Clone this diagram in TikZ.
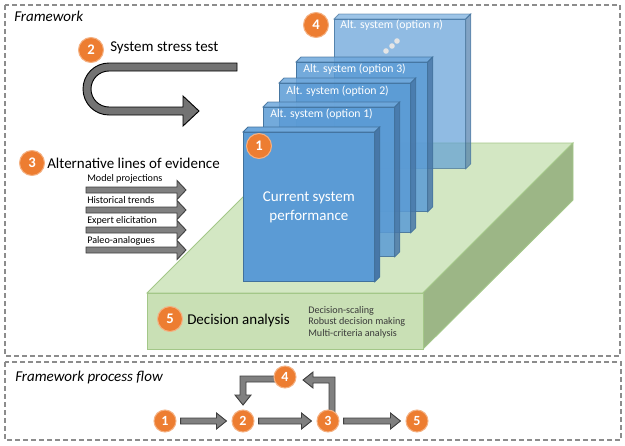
\documentclass[tikz,border=0pt]{standalone}
\usepackage{fontspec}
\setmainfont{Carlito}
\usetikzlibrary{calc,backgrounds}
\definecolor{orng}{HTML}{ED7D31}
\definecolor{orngedge}{HTML}{F4B183}
\definecolor{bfront}{HTML}{5B9BD5}
\definecolor{btop}{HTML}{6FA8DC}
\definecolor{bside}{HTML}{4777A8}
\definecolor{bedge}{HTML}{41719C}
\definecolor{gtop}{HTML}{D3E7C3}
\definecolor{gfront}{HTML}{C9E0B5}
\definecolor{gside}{HTML}{9CB686}
\definecolor{gedge}{HTML}{A3C788}
\definecolor{arrfill}{HTML}{808080}
\definecolor{arredge}{HTML}{404040}
\definecolor{framecol}{HTML}{8C8C8C}
\definecolor{listcol}{HTML}{3A3A3A}

\newcommand\depthfaces[2]{%
  \filldraw[fill=btop, draw=bedge, line width=0.6pt, fill opacity=#2, draw opacity=#2]
    (#1.north west) -- ++(5,-5) -- ($(#1.north east)+(5,-5)$) -- (#1.north east) -- cycle;
  \filldraw[fill=bside, draw=bedge, line width=0.6pt, fill opacity=#2, draw opacity=#2]
    (#1.north east) -- ++(5,-5) -- ($(#1.south east)+(5,-5)$) -- (#1.south east) -- cycle;}

\newcommand\harrow[2]{%
  \draw[blk] let \p1=(#1.east), \p2=(#2.west) in
    (\x1+3pt,\y1+2.25pt) -- (\x2-11.25pt,\y1+2.25pt) -- (\x2-11.25pt,\y1+6pt)
    -- (\x2-3.75pt,\y1) -- (\x2-11.25pt,\y1-6pt) -- (\x2-11.25pt,\y1-2.25pt)
    -- (\x1+3pt,\y1-2.25pt) -- cycle;}

\newcommand\evarrow[1]{%
  \draw[blk] (86,#1-3) -- (177,#1-3) -- (177,#1-9.5) -- (186,#1) -- (177,#1+9.5)
    -- (177,#1+3) -- (86,#1+3) -- cycle;}

\begin{document}
\begin{tikzpicture}[x=0.75pt,y=-0.75pt,
  num/.style={circle, fill=orng, draw=orngedge, line width=0.8pt, text=white,
    font=\fontsize{11}{12}\selectfont\bfseries, minimum size=18.75pt, inner sep=0pt},
  pnum/.style={num, minimum size=16.5pt, font=\fontsize{10.5}{12}\selectfont\bfseries},
  lbl/.style={font=\fontsize{11.25}{13}\selectfont, inner sep=0pt, anchor=west},
  ital/.style={lbl, font=\fontsize{11.25}{13}\selectfont\itshape},
  small/.style={font=\fontsize{7.6}{9}\selectfont, inner sep=0pt, anchor=west},
  frontface/.style={draw=bedge, line width=0.6pt, fill=bfront, minimum width=98.25pt,
    minimum height=111.75pt, anchor=north west, inner sep=0pt},
  altface/.style={frontface, fill opacity=0.85, draw opacity=0.9},
  altlbl/.style={font=\fontsize{8.8}{10}\selectfont, text=white, inner sep=0pt, anchor=west},
  blk/.style={fill=arrfill, draw=arredge, line width=0.7pt, line join=miter},
  dframe/.style={draw=framecol, line width=0.9pt, dash pattern=on 3.5pt off 2.5pt}]

\useasboundingbox (0,0) rectangle (625,446);

% frames
\draw[dframe] (5,5) rectangle (620,356);
\draw[dframe] (5,362) rectangle (621,440);
\node[ital] (fwlbl) at (14,16) {Framework};
\node[ital] (pflbl) at (15,377) {Framework process flow};

% green slab
\filldraw[fill=gtop, draw=gedge, line width=0.7pt] (147,293) -- (297,143) -- (573,143) -- (423,293) -- cycle;
\filldraw[fill=gside, draw=gedge, line width=0.7pt] (423,293) -- (573,143) -- (573,200) -- (423,349) -- cycle;
\filldraw[fill=gfront, draw=gedge, line width=0.7pt] (147,293) rectangle (423,349);

% blue boxes, back to front
\node[altface, fill opacity=0.68, draw opacity=0.75] (on) at (334,19) {};
\depthfaces{on}{0.68}
\node[altlbl] (onl) at ($(on.north west)+(6,6)$) {Alt. system (option \textit{n})};
\fill[gray!20] (386,51) circle[radius=2.1pt] (392,46) circle[radius=2.1pt] (397,41) circle[radius=2.1pt];

\node[altface] (o3) at (296,62) {};
\depthfaces{o3}{0.85}
\node[altlbl] (o3l) at ($(o3.north west)+(7,7)$) {Alt. system (option 3)};

\node[altface] (o2) at (279,83) {};
\depthfaces{o2}{0.85}
\node[altlbl] (o2l) at ($(o2.north west)+(7,8)$) {Alt. system (option 2)};

\node[altface] (o1) at (263,107) {};
\depthfaces{o1}{0.85}
\node[altlbl] (o1l) at ($(o1.north west)+(7,7)$) {Alt. system (option 1)};

\node[frontface, text=white, align=center, font=\fontsize{11.25}{14.25}\selectfont] (cur) at (243,132) {Current system\\performance};
\depthfaces{cur}{1}

% numbered circles of the framework
\node[num] (c1) at (259,146) {1};
\node[num] (c2) at (91,50) {2};
\node[num] (c3) at (32,163) {3};
\node[num] (c4) at (316,25) {4};
\node[num] (c5) at (170,319) {5};

% stress test
\node[lbl] (stl) at (110,48) {System stress test};
\draw[fill=arrfill!110!white, draw=arredge!140!white, line width=0.7pt, line join=miter]
  (237,63) -- (109,63) arc[start angle=90, end angle=270, radius=19.5pt]
  -- (183,115) -- (183,126) -- (199,111) -- (183,96) -- (183,107) -- (109,107)
  arc[start angle=270, end angle=90, radius=13.5pt] -- (237,71) -- cycle;

% lines of evidence
\node[lbl] (evl) at (47,163) {Alternative lines of evidence};
\evarrow{190}
\evarrow{210}
\evarrow{230}
\evarrow{250}
\node[small] (ev1) at (87,179) {Model projections};
\node[small] (ev2) at (87,200) {Historical trends};
\node[small] (ev3) at (87,221) {Expert elicitation};
\node[small] (ev4) at (87,241) {Paleo-analogues};

% decision analysis
\node[lbl] (dal) at (187,320) {Decision analysis};
\node[small, text=listcol, align=left, font=\fontsize{7.6}{8.7}\selectfont] (dlist) at (308,322)
  {Decision-scaling\\Robust decision making\\Multi-criteria analysis};

% process flow
\node[pnum] (p1) at (165,421) {1};
\node[pnum] (p2) at (243,421) {2};
\node[pnum] (p3) at (328,421) {3};
\node[pnum] (p4) at (285,377) {4};
\node[pnum] (p5) at (417,421) {5};

\begin{scope}[on background layer]
\harrow{p1}{p2}
\harrow{p2}{p3}
\harrow{p3}{p5}
% 3 -> 4 elbow
\draw[blk] let \p1=(p3.center), \p2=(p4.center), \p3=(\x1+3pt,\y2-2.25pt), \p4=(\x2+13.5pt,\y3) in
  (\x3-2.25pt,\y1) -- (\x3-2.25pt,\y3-2.25pt) -- (\x4+7.5pt,\y3-2.25pt) -- (\x4+7.5pt,\y3-6pt)
  -- (\x4,\y3) -- (\x4+7.5pt,\y3+6pt) -- (\x4+7.5pt,\y3+2.25pt) -- (\x3+2.25pt,\y3+2.25pt)
  -- (\x3+2.25pt,\y1) -- cycle;
% 4 -> 2 elbow
\draw[blk] let \p1=(p4.center), \p2=(p2.center), \p3=(\x2,\y1-1.5pt), \p4=(\x2,\y2+12pt) in
  (\x1,\y3+2.25pt) -- (\x3-2.25pt,\y3+2.25pt) -- (\x3-2.25pt,\y4+7.5pt) -- (\x3-6pt,\y4+7.5pt)
  -- (\x3,\y4) -- (\x3+6pt,\y4+7.5pt) -- (\x3+2.25pt,\y4+7.5pt) -- (\x3+2.25pt,\y3-2.25pt)
  -- (\x1,\y3-2.25pt) -- cycle;
\end{scope}
\end{tikzpicture}
\end{document}
